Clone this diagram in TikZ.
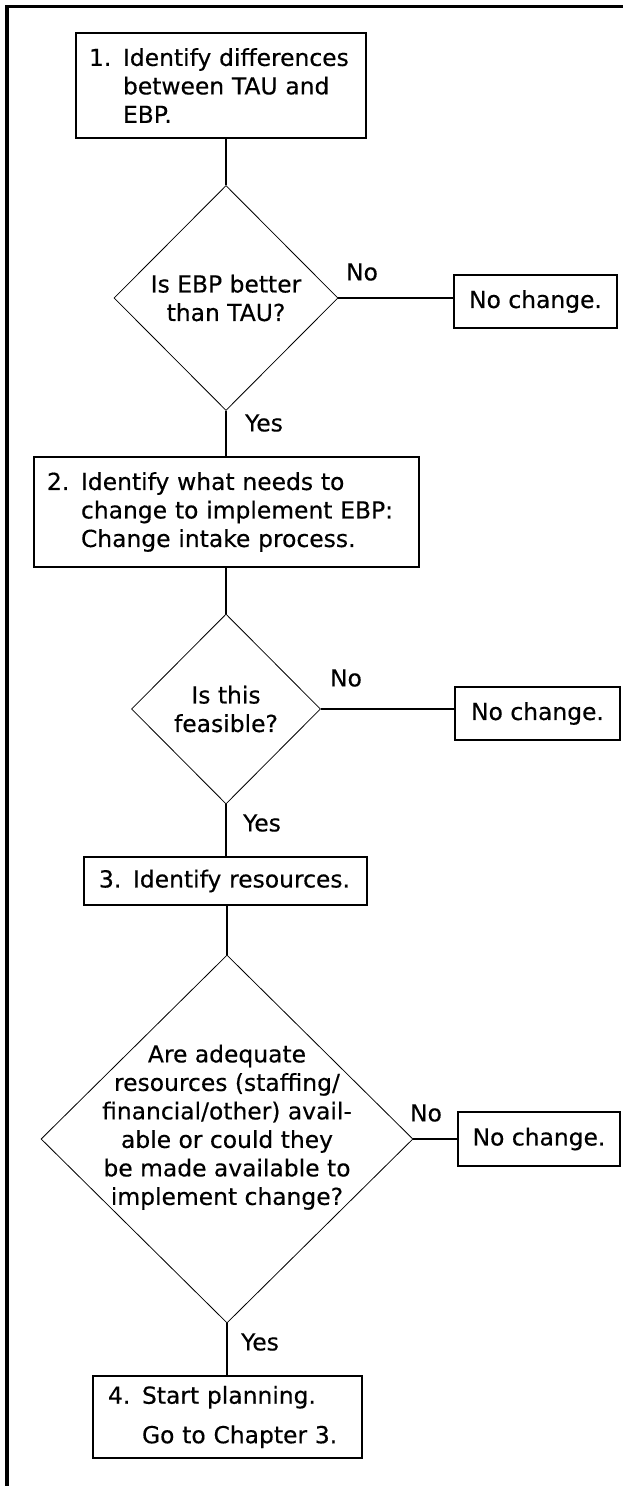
\documentclass[tikz,border=0pt]{standalone}
\usepackage{fontspec}
\setmainfont{DejaVu Sans}[RawFeature={embolden=0.4}]
\usetikzlibrary{shapes.geometric}

\newcommand{\stepno}[1]{\makebox[34pt][l]{#1}}
\newcommand{\stepgap}{\hspace*{34pt}}

\begin{document}
\begin{tikzpicture}[x=1pt, y=-1pt,
    every node/.style={font=\fontsize{23.4}{28.5}\selectfont},
    stepbox/.style={draw, line width=2pt, align=left, inner xsep=13pt, inner ysep=0pt},
    askbox/.style={draw, shape=diamond, line width=0.8pt, align=center, inner sep=0pt},
    endbox/.style={draw, line width=2pt, minimum height=53pt, inner sep=0pt},
    link/.style={line width=2pt}]
    \useasboundingbox (0,0) rectangle (629,1486);

    % Frame on the top and left side
    \draw[line width=3.5pt] (7,1486) -- (7,6.5) -- (623,6.5);

    % Steps
    \node[stepbox, text width=264pt, minimum height=105pt] (s1) at (221,85.5)
        {\stepno{1.}Identify differences\\\stepgap between TAU and\\\stepgap EBP.};
    \node[stepbox, text width=359pt, minimum height=110pt] (s2) at (226.5,512)
        {\stepno{2.}Identify what needs to\\\stepgap change to implement EBP:\\\stepgap Change intake process.};
    \node[stepbox, text width=253pt, inner xsep=15pt, minimum height=48pt] (s3) at (225.5,881)
        {\stepno{3.}Identify resources.};
    \node[stepbox, text width=239pt, inner xsep=15pt, minimum height=82pt] (s4) at (227.5,1417)
        {\stepno{4.}Start planning.\\[11pt]\stepgap Go to Chapter 3.};

    % Questions
    \node[askbox, minimum width=224pt, minimum height=225pt] (d1) at (226,298)
        {Is EBP better\\than TAU?};
    \node[askbox, minimum width=189pt, minimum height=190pt] (d2) at (226,709)
        {Is this\\feasible?};
    \node[askbox, minimum width=372pt, minimum height=368pt, inner sep=-20pt] (d3) at (227,1139)
        {Are adequate\\resources (staffing/\\financial/other) avail-\\able or could they\\be made available to\\implement change?\\\mbox{}};

    % Dead ends
    \node[endbox, minimum width=163pt] (n1) at (535.5,301.5) {No change.};
    \node[endbox, minimum width=165pt] (n2) at (537.5,713.5) {No change.};
    \node[endbox, minimum width=162pt, minimum height=54pt] (n3) at (539,1139) {No change.};

    % Answers
    \node (no1) at (362,272) {No};
    \node (yes1) at (264,423) {Yes};
    \node (no2) at (346,678) {No};
    \node (yes2) at (262,823) {Yes};
    \node (no3) at (426,1113) {No};
    \node (yes3) at (260,1342) {Yes};

    % Connectors
    \draw[link] (s1.south -| d1.north) -- (d1.north);
    \draw[link] (d1.south) -- (s2.north -| d1.south);
    \draw[link] (d1.east) -- (d1.east -| n1.west);
    \draw[link] (s2.south -| d2.north) -- (d2.north);
    \draw[link] (d2.south) -- (s3.north -| d2.south);
    \draw[link] (d2.east) -- (d2.east -| n2.west);
    \draw[link] (s3.south -| d3.north) -- (d3.north);
    \draw[link] (d3.south) -- (s4.north -| d3.south);
    \draw[link] (d3.east) -- (d3.east -| n3.west);
\end{tikzpicture}
\end{document}
